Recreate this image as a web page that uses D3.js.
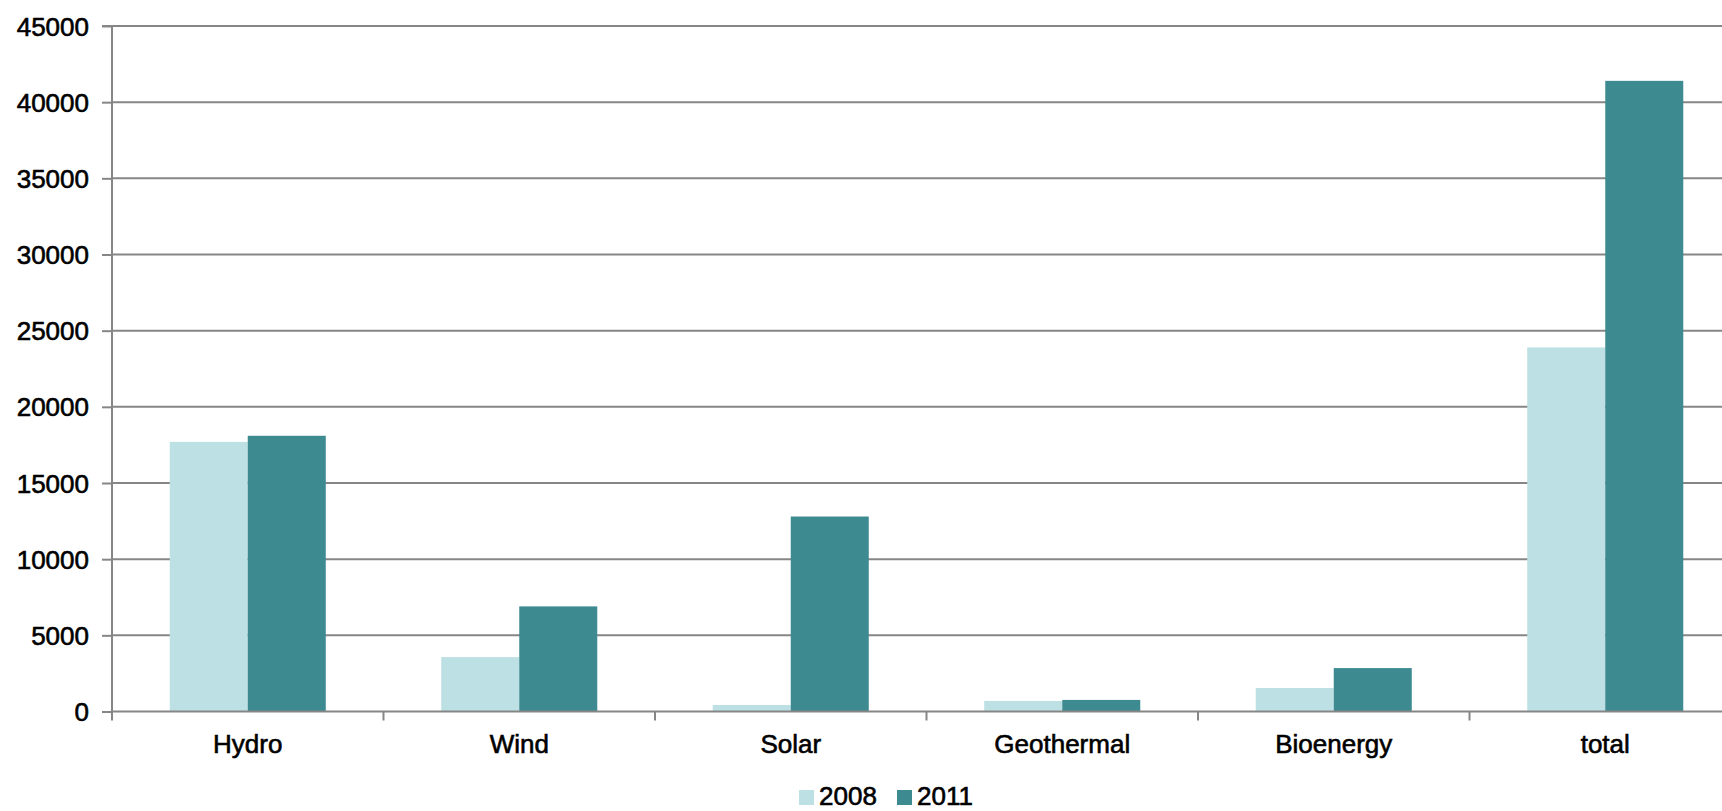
<!DOCTYPE html>
<html>
<head>
<meta charset="utf-8">
<script src="https://cdn.jsdelivr.net/npm/d3@7"></script>
<style>
  html, body { margin: 0; padding: 0; background: #fff; }
  svg { display: block; }
  text { font-family: "Liberation Sans", Arial, sans-serif; fill: #000; stroke: #000; stroke-width: 0.6px; }
</style>
</head>
<body>
<svg id="chart" width="1722" height="811"></svg>
<script>
// Renewable capacity by source
const categories = ["Hydro", "Wind", "Solar", "Geothermal", "Bioenergy", "total"];
const seriesNames = ["2008", "2011"];
const values2008 = [17700, 3570, 430, 690, 1540, 23900];
const values2011 = [18100, 6900, 12800, 760, 2850, 41400];
const yTicks = [0, 5000, 10000, 15000, 20000, 25000, 30000, 35000, 40000, 45000];
const colors = ["#bce0e3", "#3d8b91"];

const svg = d3.select("#chart");
const W = 1722, H = 811;
const plotLeft = 112, plotTop = 26, plotBottom = 711.5;
const plotRight = plotLeft + 6 * 271.5; // plot area runs past the right edge

const x0 = d3.scaleBand().domain(categories).range([plotLeft, plotRight]).padding(0);
const x1 = d3.scaleBand().domain(seriesNames).range([0, x0.bandwidth()])
  .paddingInner(0).paddingOuter(0.74);
const y = d3.scaleLinear().domain([0, 45000]).range([plotBottom, plotTop]);

const grid = "#868686";
const fontSize = 26;

// horizontal gridlines
svg.append("g").selectAll("line").data(yTicks.slice(1)).join("line")
  .attr("x1", plotLeft).attr("x2", W)
  .attr("y1", d => y(d)).attr("y2", d => y(d))
  .attr("stroke", grid).attr("stroke-width", 2);

// bars
const rows = categories.map((c, i) => ({ cat: c, vals: [values2008[i], values2011[i]] }));
const groups = svg.append("g").selectAll("g").data(rows).join("g")
  .attr("transform", d => `translate(${x0(d.cat)},0)`);
groups.selectAll("rect").data(d => d.vals.map((v, k) => ({ k, v }))).join("rect")
  .attr("x", d => x1(seriesNames[d.k]))
  .attr("width", x1.bandwidth())
  .attr("y", d => y(d.v))
  .attr("height", d => y(0) - y(d.v))
  .attr("fill", d => colors[d.k]);

// y axis
const yAxis = d3.axisLeft(y).tickValues(yTicks).tickSize(10).tickPadding(13).tickFormat(d3.format("d"));
const gy = svg.append("g").attr("transform", `translate(${plotLeft},0)`).call(yAxis);
gy.select(".domain").attr("stroke", grid).attr("stroke-width", 2).attr("d", `M-10,${plotTop}H0V${plotBottom}`);
gy.selectAll(".tick line").attr("stroke", grid).attr("stroke-width", 2);
gy.selectAll(".tick text").attr("font-size", fontSize).attr("font-family", "Liberation Sans, Arial, sans-serif")
  .attr("fill", "#000").attr("dy", "0.35em");

// x axis baseline with category separators
const gx = svg.append("g");
gx.append("line").attr("x1", plotLeft).attr("x2", W).attr("y1", plotBottom).attr("y2", plotBottom)
  .attr("stroke", grid).attr("stroke-width", 2);
const seps = categories.map(c => x0(c)).concat([x0(categories[5]) + x0.bandwidth()]);
gx.selectAll("line.sep").data(seps).join("line").attr("class", "sep")
  .attr("x1", d => d).attr("x2", d => d).attr("y1", plotBottom).attr("y2", plotBottom + 9)
  .attr("stroke", grid).attr("stroke-width", 2);
gx.selectAll("text").data(categories).join("text")
  .attr("x", d => x0(d) + x0.bandwidth() / 2)
  .attr("y", 753)
  .attr("text-anchor", "middle")
  .attr("font-size", fontSize)
  .text(d => d);

// legend
const legend = svg.append("g");
const legendX = [799, 897];
seriesNames.forEach((s, i) => {
  legend.append("rect").attr("x", legendX[i]).attr("y", 790).attr("width", 15).attr("height", 15)
    .attr("fill", colors[i]);
  legend.append("text").attr("x", legendX[i] + 20).attr("y", 805).attr("font-size", fontSize).text(s);
});
</script>
</body>
</html>
